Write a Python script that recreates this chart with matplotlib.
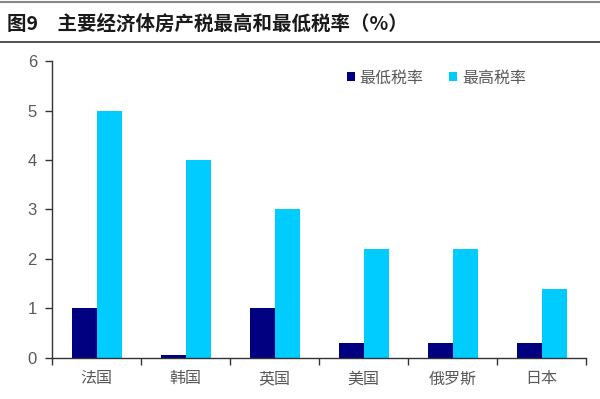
import numpy as np
import matplotlib.pyplot as plt
from matplotlib.lines import Line2D

plt.rcParams['font.family'] = ['Noto Sans CJK SC', 'DejaVu Sans']

# 各国房产税税率（%）
countries = ['法国', '韩国', '英国', '美国', '俄罗斯', '日本']
low_rate = [1, 0.05, 1, 0.3, 0.3, 0.3]
high_rate = [5, 4, 3, 2.2, 2.2, 1.4]
series_names = ['最低税率', '最高税率']
title = '图9\u3000主要经济体房产税最高和最低税率（%）'

fig = plt.figure(figsize=(6, 3.99), dpi=100)
ax = fig.add_axes([0.087, 0.103, 0.89, 0.744])

x = np.arange(len(countries))
w = 0.28
ax.bar(x - w/2, low_rate, w, color='#000080', label=series_names[0])
ax.bar(x + w/2, high_rate, w, color='#00CCFF', label=series_names[1])

ax.set_xlim(-0.5, len(countries) - 0.5)
ax.set_ylim(0, 6)
ax.set_yticks(range(0, 7))
ax.set_xticks(x)
ax.set_xticklabels(countries)
ax.set_xticks(np.arange(-0.5, len(countries)), minor=True)
ax.tick_params(axis='x', which='major', length=0, pad=9, labelsize=11.5, labelcolor='#595959')
ax.tick_params(axis='x', which='minor', length=5, width=1, color='#333333', direction='out')
ax.tick_params(axis='y', length=5, width=1, color='#333333', pad=6, labelsize=12, labelcolor='#595959')
for lab in ax.get_yticklabels():
    lab.set_family(['Liberation Sans', 'DejaVu Sans'])

for s in ['top', 'right']:
    ax.spines[s].set_visible(False)
for s in ['left', 'bottom']:
    ax.spines[s].set_color('#333333')
    ax.spines[s].set_linewidth(1)

ax.legend(loc='upper left', bbox_to_anchor=(0.525, 1.02), ncol=2, frameon=False,
          fontsize=11.5, handlelength=0.5, handleheight=0.5, handletextpad=0.3,
          columnspacing=1.6, labelcolor='#595959')

# 标题栏
fig.text(0.012, 0.94, title, fontsize=14, fontweight='semibold', color='#1a1a1a',
         va='center', ha='left')
fig.add_artist(Line2D([0, 1], [0.995, 0.995], color='#888888', lw=1.5))
fig.add_artist(Line2D([0, 1], [0.895, 0.895], color='#333333', lw=1.2))

fig.savefig('out.png', dpi=100)
